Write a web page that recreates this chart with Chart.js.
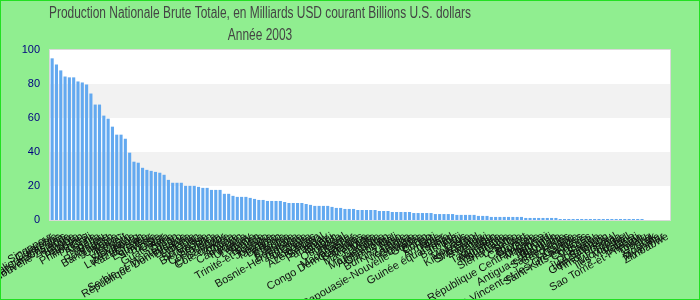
<!DOCTYPE html>
<html>
<head>
<meta charset="utf-8">
<script src="https://cdn.jsdelivr.net/npm/chart.js@4/dist/chart.umd.min.js"></script>
<style>
    html, body { margin: 0; padding: 0; }
    #wrap {
        width: 698px;
        height: 298px;
        border: 1px solid #22e022;
        background: #90ee90;
    }
</style>
</head>
<body>
<div id="wrap"><canvas id="chart" width="698" height="298"></canvas></div>
<script>
// Chart data
const titleLines = [
    'Production Nationale Brute Totale, en Milliards USD courant Billions U.S. dollars',
    'Année 2003'
];

const countries = [
    'Singapour', 'Colombie', 'République tchèque', 'Émirats arabes unis', 'Nouvelle-Zélande',
    'Hongrie', 'Égypte', 'Pakistan', 'Philippines', 'Chili',
    'Algérie', 'Nigéria', 'Pérou', 'Roumanie', 'Bangladesh',
    'Ukraine', 'Maroc', 'Koweït', 'Viêt Nam', 'Slovaquie',
    'Luxembourg', 'Kazakhstan', 'Croatie', 'Équateur', 'Slovénie',
    'Tunisie', 'Qatar', 'Guatemala', 'Syrie', 'Oman',
    'Serbie-et-Monténégro', 'République Dominicaine', 'Bulgarie', 'Lituanie', 'Liban',
    'Sri Lanka', 'Biélorussie', 'Soudan', 'Costa Rica', 'Kenya',
    'El Salvador', "Côte d'Ivoire", 'Angola', 'Chypre', 'Cameroun',
    'Panama', 'Uruguay', 'Lettonie', 'Yémen', 'Islande',
    'Trinité-et-Tobago', 'Jordanie', 'Tanzanie', 'Bahreïn', 'Estonie',
    'Éthiopie', 'Bolivie', 'Botswana', 'Bosnie-Herzégovine', 'Jamaïque',
    'Ghana', 'Honduras', 'Azerbaïdjan', 'Sénégal', 'Paraguay',
    'Brunei', 'Gabon', 'Ouganda', 'Népal', 'Albanie',
    'Madagascar', 'Congo Démocratique', 'Bahamas', 'Maurice', 'Macédoine',
    'Malte', 'Namibie', 'Mozambique', 'Afghanistan', 'Cambodge',
    'Mali', 'Burkina Faso', 'Zambie', 'Nicaragua', 'Géorgie',
    'Guinée', 'Papouasie-Nouvelle-Guinée', 'Bénin', 'Congo', 'Haïti',
    'Arménie', 'Niger', 'Guinée équatoriale', 'Tchad', 'Barbade',
    'Fidji', 'Laos', 'Moldavie', 'Kirghizistan', 'Swaziland',
    'Rwanda', 'Malawi', 'Togo', 'Tadjikistan', 'Mongolie',
    'Mauritanie', 'Suriname', 'Sierra Leone', 'Lesotho', 'Belize',
    'Cap-Vert', 'Guyana', 'Érythrée', 'République Centrafricaine', 'Maldives',
    'Djibouti', 'Burundi', 'Bhoutan', 'Antigua-et-Barbuda', 'Sainte-Lucie',
    'Seychelles', 'Grenade', 'Gambie', 'Saint-Vincent-et-les-Grenadines', 'Saint-Kitts-et-Nevis',
    'Comores', 'Vanuatu', 'Samoa', 'Dominique', 'Îles Salomon',
    'Guinée-Bissau', 'Timor oriental', 'Tonga', 'Micronésie', 'Îles Marshall',
    'Palaos', 'Kiribati', 'Sao Tomé-et-Principe', 'Tuvalu', 'Libéria',
    'Irak', 'Somalie', 'Myanmar', 'Zimbabwe'
];

const values = [
    95.1, 91.5, 88.0, 84.4, 83.9, 83.9, 81.5, 80.9, 79.7, 74.4,
    67.9, 67.9, 61.4, 59.6, 54.9, 50.2, 50.2, 47.8, 39.6, 34.3,
    33.7, 30.7, 29.5, 28.9, 28.3, 27.8, 26.6, 23.6, 21.9, 21.9,
    21.9, 20.1, 20.1, 20.1, 19.5, 18.9, 18.9, 17.7, 17.7, 17.7,
    15.4, 15.4, 14.2, 13.6, 13.6, 13.6, 13.0, 12.4, 11.8, 11.8,
    11.2, 11.2, 11.2, 11.2, 10.6, 10.0, 10.0, 10.0, 10.0, 9.4,
    8.9, 8.3, 8.3, 8.3, 8.3, 7.7, 7.1, 7.1, 6.5, 6.5,
    6.5, 5.9, 5.9, 5.9, 5.9, 5.9, 5.3, 5.3, 5.3, 4.7,
    4.7, 4.7, 4.7, 4.7, 4.1, 4.1, 4.1, 4.1, 4.1, 3.5,
    3.5, 3.5, 3.5, 3.5, 3.0, 3.0, 3.0, 3.0, 3.0, 2.4,
    2.4, 2.4, 1.8, 1.8, 1.8, 1.8, 1.8, 1.8, 1.8, 1.8,
    1.2, 1.2, 1.2, 1.2, 1.2, 1.2, 1.2, 1.2, 0.6, 0.6,
    0.6, 0.6, 0.6, 0.6, 0.6, 0.6, 0.6, 0.6, 0.6, 0.6,
    0.6, 0.6, 0.6, 0.6, 0.6, 0.6, 0.6, 0.6, 0, 0,
    0, 0, 0, 0
];

const yTicks = [0, 20, 40, 60, 80, 100];
const shadedBands = [[20, 40], [60, 80]];

// plot background, alternating bands and frame
const plotFrame = {
    id: 'plotFrame',
    beforeDraw(chart) {
        const { ctx, chartArea: a, scales: { y } } = chart;
        ctx.save();
        ctx.fillStyle = '#ffffff';
        ctx.fillRect(a.left, a.top, a.right - a.left, a.bottom - a.top);
        ctx.fillStyle = '#f2f2f2';
        shadedBands.forEach(([lo, hi]) => {
            const top = y.getPixelForValue(hi);
            const bottom = y.getPixelForValue(lo);
            ctx.fillRect(a.left, top, a.right - a.left, bottom - top);
        });
        ctx.restore();
    },
    afterDatasetsDraw(chart) {
        const { ctx, chartArea: a } = chart;
        ctx.save();
        ctx.strokeStyle = '#d9d9d9';
        ctx.lineWidth = 1;
        ctx.strokeRect(a.left - 0.5, a.top - 0.5, a.right - a.left + 1, a.bottom - a.top + 1);
        ctx.restore();
    }
};

// condensed two-line title, centred left of the plot like the original
const condensedTitle = {
    id: 'condensedTitle',
    afterDraw(chart) {
        const ctx = chart.ctx;
        ctx.save();
        ctx.fillStyle = '#444444';
        ctx.font = '16px Arial';
        ctx.textAlign = 'center';
        ctx.textBaseline = 'middle';
        titleLines.forEach((line, i) => {
            ctx.save();
            ctx.translate(259, 12.5 + i * 22);
            ctx.scale(0.745, 1);
            ctx.fillText(line, 0, 0);
            ctx.restore();
        });
        ctx.restore();
    }
};

function createChart() {
    const ctx = document.getElementById('chart').getContext('2d');

    new Chart(ctx, {
        type: 'bar',
        data: {
            labels: countries,
            datasets: [{
                data: values,
                backgroundColor: '#63a9f0',
                borderWidth: 0
            }]
        },
        options: {
            responsive: false,
            animation: false,
            layout: { padding: { top: 49, right: 29, bottom: 0, left: 0 } },
            plugins: {
                legend: { display: false },
                tooltip: { enabled: false },
                title: { display: false }
            },
            scales: {
                x: {
                    grid: { display: false },
                    border: { display: false },
                    ticks: {
                        autoSkip: false,
                        minRotation: 30,
                        maxRotation: 30,
                        padding: 2,
                        color: '#111111',
                        font: { family: 'Arial', size: 11 }
                    },
                    afterFit(scale) { scale.height = 79; }
                },
                y: {
                    min: 0,
                    max: 100,
                    grid: { display: false, drawTicks: false },
                    border: { display: false },
                    afterBuildTicks(scale) { scale.ticks = yTicks.map(v => ({ value: v })); },
                    ticks: {
                        padding: 10,
                        color: '#000080',
                        font: { family: 'Arial', size: 11 }
                    },
                    afterFit(scale) { scale.width = 49; }
                }
            }
        },
        plugins: [plotFrame, condensedTitle]
    });
}

createChart();
</script>
</body>
</html>
